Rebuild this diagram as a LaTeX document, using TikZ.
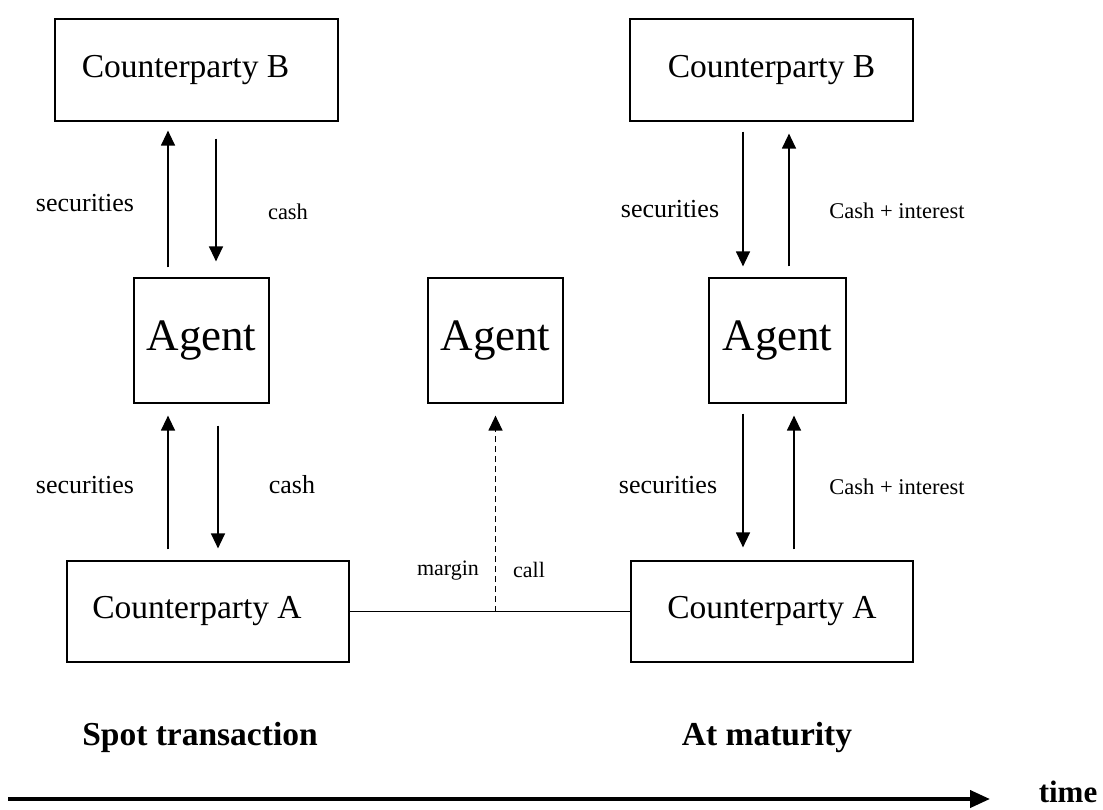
\documentclass[tikz,border=0pt]{standalone}
\usepackage{fontspec}
\setmainfont{Liberation Serif}
\usepackage{tikz}
\usetikzlibrary{arrows.meta,positioning,calc}

\begin{document}
\begin{tikzpicture}[x=1pt, y=-1pt, line width=1.2pt,
  party/.style={draw, minimum width=283pt, minimum height=102pt, inner sep=0pt, font=\fontsize{33.5}{40}\selectfont},
  agent/.style={draw, minimum width=135pt, minimum height=125pt, inner sep=0pt, font=\fontsize{45}{54}\selectfont},
  flow/.style={-{Triangle[length=15pt,width=14pt]}, line width=1.3pt},
  lbl/.style={inner sep=0pt, font=\fontsize{26}{30}\selectfont},
  slbl/.style={inner sep=0pt, font=\fontsize{22.5}{27}\selectfont},
  head/.style={inner sep=0pt, font=\fontsize{33.5}{40}\selectfont\bfseries}]
  \useasboundingbox (0,0) rectangle (1103,809);

  % boxes
  \node[party] (cpBl) at (196.5,70) {Counterparty B\kern22pt};
  \node[agent] (agL) at (201.5,340.5) {Agent};
  \node[party, minimum width=282pt, minimum height=101pt] (cpAl) at (208,611.5) {Counterparty A\kern22pt};
  \node[agent] (agM) at (495.5,340.5) {Agent};
  \node[party] (cpBr) at (771.5,70) {Counterparty B};
  \node[agent, minimum width=137pt] (agR) at (777.5,340.5) {Agent};
  \node[party, minimum width=282pt, minimum height=101pt] (cpAr) at (772,611.5) {Counterparty A};

  % spot transaction
  \draw[flow, shorten <=10pt, shorten >=9pt] ([xshift=-33.5pt]agL.north) -- ([xshift=-33.5pt]agL.north |- cpBl.south);
  \draw[flow, shorten <=17pt, shorten >=16pt] ([xshift=14.5pt]agL.north |- cpBl.south) -- ([xshift=14.5pt]agL.north);
  \draw[flow, shorten <=11pt, shorten >=12pt] ([xshift=-33.5pt]agL.south |- cpAl.north) -- ([xshift=-33.5pt]agL.south);
  \draw[flow, shorten <=22pt, shorten >=12pt] ([xshift=16.5pt]agL.south) -- ([xshift=16.5pt]agL.south |- cpAl.north);

  % margin call
  \draw (cpAl.east) -- (cpAr.west);
  \coordinate (mc) at (cpAl.east -| agM.south);
  \draw[flow, dash pattern=on 6pt off 4pt, shorten >=12pt] (mc) -- (agM.south);

  % at maturity
  \draw[flow, shorten <=10pt, shorten >=11pt] ([xshift=-34.5pt]agR.north |- cpBr.south) -- ([xshift=-34.5pt]agR.north);
  \draw[flow, shorten <=11pt, shorten >=12pt] ([xshift=11.5pt]agR.north) -- ([xshift=11.5pt]agR.north |- cpBr.south);
  \draw[flow, shorten <=10pt, shorten >=13pt] ([xshift=-34.5pt]agR.south) -- ([xshift=-34.5pt]agR.south |- cpAr.north);
  \draw[flow, shorten <=11pt, shorten >=12pt] ([xshift=16.5pt]agR.south |- cpAr.north) -- ([xshift=16.5pt]agR.south);

  % labels
  \node[lbl] (secTL) at (85,203) {securities};
  \node[slbl] (cashTL) at (288,212) {cash};
  \node[lbl] (secBL) at (85,485) {securities};
  \node[lbl] (cashBL) at (292,485) {cash};
  \node[lbl] (secTR) at (670,209) {securities};
  \node[slbl] (intTR) at (897,211) {Cash + interest};
  \node[lbl] (secBR) at (668,485) {securities};
  \node[slbl] (intBR) at (897,487) {Cash + interest};
  \node[slbl, font=\fontsize{22}{26}\selectfont] (margin) at (448,571) {margin};
  \node[slbl, font=\fontsize{22}{26}\selectfont] (call) at (529,570) {call};

  \node[head] (spot) at (200,737) {Spot transaction};
  \node[head] (mat) at (767,737) {At maturity};

  % time axis
  \node[head, font=\fontsize{31}{37}\selectfont\bfseries] (time) at (1068,792) {time};
  \coordinate (t0) at (8,799);
  \coordinate (t1) at (990,799);
  \draw[-{Triangle[length=20pt,width=17pt]}, line width=4pt] (t0) -- (t1);
\end{tikzpicture}
\end{document}
